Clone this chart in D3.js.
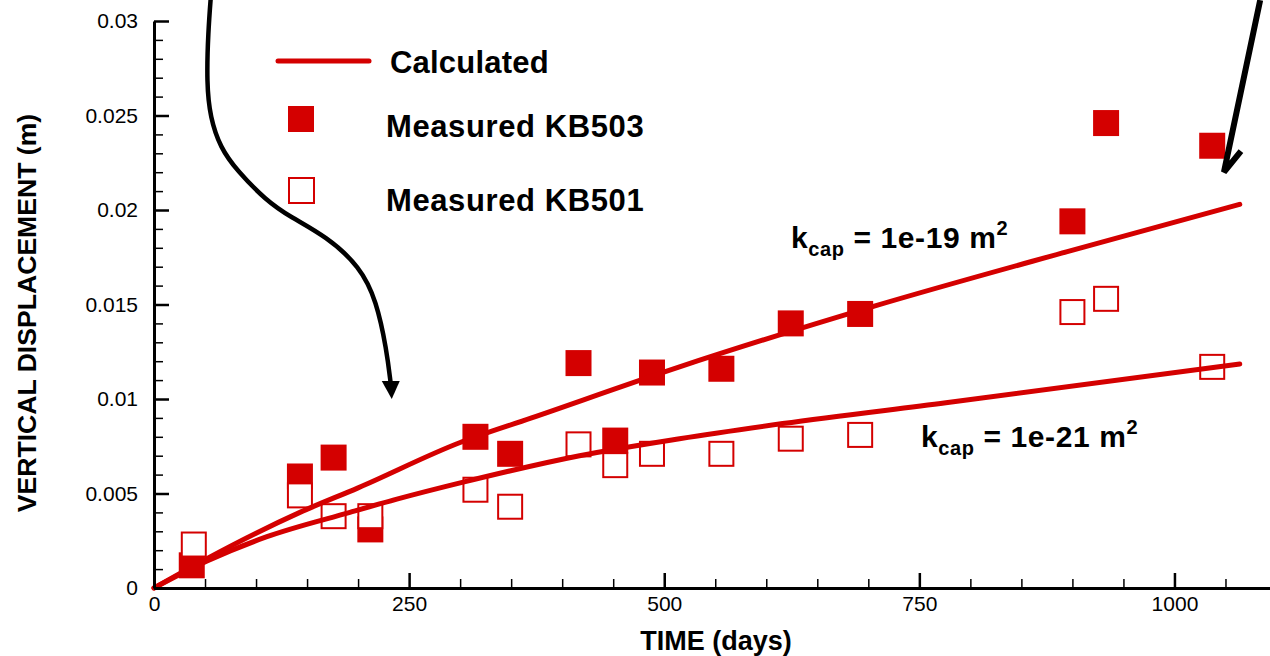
<!DOCTYPE html>
<html>
<head>
<meta charset="utf-8">
<script src="https://cdn.jsdelivr.net/npm/d3@7"></script>
<style>
  body { margin: 0; background: #fff; }
  text { font-family: "Liberation Sans", Arial, sans-serif; }
</style>
</head>
<body>
<svg id="chart" width="1270" height="656"></svg>
<script>
// measured points
const kb503Days = [37, 143, 176, 212, 315, 349, 416, 452, 488, 556, 624, 692, 900, 933, 1037];
const kb503Vals = [0.0012, 0.0059, 0.0069, 0.0031, 0.0080, 0.0071, 0.0119, 0.0078, 0.0114, 0.0116, 0.0140, 0.0145, 0.0194, 0.0246, 0.0234];
const kb501Days = [39, 143, 176, 212, 315, 349, 416, 452, 488, 556, 624, 692, 900, 933, 1037];
const kb501Vals = [0.0023, 0.0049, 0.0038, 0.0038, 0.0052, 0.0043, 0.0076, 0.0065, 0.0071, 0.0071, 0.0079, 0.0081, 0.0146, 0.0153, 0.0117];

// calculated curves
const calc19Days = [0, 50, 100, 143, 200, 300, 370, 515, 705, 895, 1064];
const calc19Vals = [0, 0.0015, 0.0029, 0.0040, 0.0053, 0.0077, 0.0090, 0.0117, 0.0149, 0.0178, 0.0203];
const calc21Days = [0, 52, 110, 192, 238, 303, 417, 515, 616, 776, 1064];
const calc21Vals = [0, 0.00143, 0.0027, 0.0040, 0.0047, 0.0056, 0.0070, 0.0079, 0.0087, 0.0098, 0.01185];

const xMajor = [0, 250, 500, 750, 1000];
const yMajor = [0, 0.005, 0.01, 0.015, 0.02, 0.025, 0.03];

// annotation arrows, in data units
const arrowLeft = [[56, 0.0315], [53, 0.0294], [51.6, 0.0267], [55, 0.0249], [65, 0.0233], [81, 0.0221], [110, 0.0205],
                   [133, 0.01965], [169, 0.0186], [202, 0.0170], [218, 0.0152], [228, 0.0126], [232, 0.0108]];
const arrowRight = [[1084, 0.0311], [1048.5, 0.0220]];

const red = "#d40000";
const svg = d3.select("#chart");

const x = d3.scaleLinear().domain([0, 1100]).range([154, 1276.5]);
const y = d3.scaleLinear().domain([0, 0.03]).range([588, 21]);

// filled markers
svg.append("g")
    .selectAll("rect")
    .data(d3.zip(kb503Days, kb503Vals))
    .join("rect")
    .attr("x", d => x(d[0]) - 13)
    .attr("y", d => y(d[1]) - 13)
    .attr("width", 26)
    .attr("height", 26)
    .attr("fill", red);

// open markers (white inside, sit over the filled ones)
svg.append("g")
    .selectAll("rect")
    .data(d3.zip(kb501Days, kb501Vals))
    .join("rect")
    .attr("x", d => x(d[0]) - 12)
    .attr("y", d => y(d[1]) - 12)
    .attr("width", 24)
    .attr("height", 24)
    .attr("fill", "#fff")
    .attr("stroke", red)
    .attr("stroke-width", 2);

// calculated lines
const line = d3.line().x(d => x(d[0])).y(d => y(d[1])).curve(d3.curveMonotoneX);
[d3.zip(calc19Days, calc19Vals), d3.zip(calc21Days, calc21Vals)].forEach(pts => {
    svg.append("path")
        .attr("d", line(pts))
        .attr("fill", "none")
        .attr("stroke", red)
        .attr("stroke-width", 5)
        .attr("stroke-linecap", "round")
        .attr("stroke-linejoin", "round");
});

// x axis
const xMinor = d3.range(0, 1101, 50).filter(d => d % 250 !== 0);
svg.append("g")
    .attr("transform", `translate(0,${y(0)})`)
    .call(d3.axisBottom(x).tickValues(xMinor).tickSize(-9).tickFormat(""))
    .call(g => g.select(".domain").remove())
    .selectAll("line").attr("stroke-width", 1.5);

const gx = svg.append("g")
    .attr("transform", `translate(0,${y(0)})`)
    .call(d3.axisBottom(x).tickValues(xMajor).tickSizeInner(-15).tickSizeOuter(0).tickPadding(8).tickFormat(d3.format("d")));
gx.select(".domain").attr("stroke-width", 3);
gx.selectAll(".tick line").attr("stroke-width", 2.5);
gx.selectAll("text").style("font-size", "21px").attr("fill", "#000");

// y axis
const yMinor = d3.range(0, 31).map(d => d / 1000).filter((d, i) => i % 5 !== 0);
svg.append("g")
    .attr("transform", `translate(${x(0)},0)`)
    .call(d3.axisLeft(y).tickValues(yMinor).tickSize(-9).tickFormat(""))
    .call(g => g.select(".domain").remove())
    .selectAll("line").attr("stroke-width", 1.5);

const gy = svg.append("g")
    .attr("transform", `translate(${x(0)},0)`)
    .call(d3.axisLeft(y).tickValues(yMajor).tickSizeInner(-15).tickSizeOuter(0).tickPadding(16).tickFormat(d => d === 0 ? "0" : String(d)));
gy.select(".domain").attr("stroke-width", 3);
gy.selectAll(".tick line").attr("stroke-width", 2.5);
gy.selectAll("text").style("font-size", "21px").attr("fill", "#000");

// axis titles
svg.append("text")
    .attr("x", 716)
    .attr("y", 650)
    .attr("text-anchor", "middle")
    .style("font-size", "27px")
    .style("font-weight", "bold")
    .text("TIME (days)");

svg.append("text")
    .attr("transform", `translate(36,313) rotate(-90)`)
    .attr("text-anchor", "middle")
    .style("font-size", "26.6px")
    .style("font-weight", "bold")
    .text("VERTICAL DISPLACEMENT (m)");

// black arrows
svg.append("path")
    .attr("d", d3.line().x(d => x(d[0])).y(d => y(d[1])).curve(d3.curveBasis)(arrowLeft))
    .attr("fill", "none")
    .attr("stroke", "#000")
    .attr("stroke-width", 4.5);
const tipL = arrowLeft[arrowLeft.length - 1];
svg.append("path")
    .attr("d", `M${x(tipL[0]) - 9},${y(tipL[1]) - 3} L${x(tipL[0]) + 9},${y(tipL[1]) - 3} L${x(tipL[0]) + 1},${y(tipL[1]) + 15} Z`)
    .attr("fill", "#000");

const tipR = arrowRight[1];
svg.append("path")
    .attr("d", `M${x(arrowRight[0][0])},${y(arrowRight[0][1])} L${x(tipR[0])},${y(tipR[1])} L${x(tipR[0]) + 17},${y(tipR[1]) - 21}`)
    .attr("fill", "none")
    .attr("stroke", "#000")
    .attr("stroke-width", 6)
    .attr("stroke-linejoin", "miter");

// legend
const legend = svg.append("g");
legend.append("line")
    .attr("x1", 278).attr("x2", 369).attr("y1", 61).attr("y2", 61)
    .attr("stroke", red).attr("stroke-width", 5).attr("stroke-linecap", "round");
legend.append("rect")
    .attr("x", 288).attr("y", 106).attr("width", 26).attr("height", 26)
    .attr("fill", red);
legend.append("rect")
    .attr("x", 289).attr("y", 178).attr("width", 25).attr("height", 25)
    .attr("fill", "#fff").attr("stroke", red).attr("stroke-width", 2);
[["Calculated", 390, 73, 0.2], ["Measured KB503", 386, 137, 0.6], ["Measured KB501", 386, 211, 0.6]].forEach(([t, tx, ty, ls]) => {
    legend.append("text")
        .attr("x", tx).attr("y", ty)
        .style("font-size", "31px")
        .style("font-weight", "bold")
        .style("letter-spacing", ls + "px")
        .text(t);
});

// k_cap labels
function kLabel(tx, ty, exp) {
    const t = svg.append("text")
        .attr("x", tx).attr("y", ty)
        .style("font-weight", "bold")
        .style("letter-spacing", "0.6px");
    t.append("tspan").style("font-size", "30px").text("k");
    t.append("tspan").style("font-size", "20px").attr("dy", 8).text("cap");
    t.append("tspan").style("font-size", "30px").attr("dy", -8).text(` = 1e-${exp} m`);
    t.append("tspan").style("font-size", "20px").attr("dy", -13).text("2");
}
kLabel(791, 248, 19);
kLabel(921, 447, 21);
</script>
</body>
</html>
